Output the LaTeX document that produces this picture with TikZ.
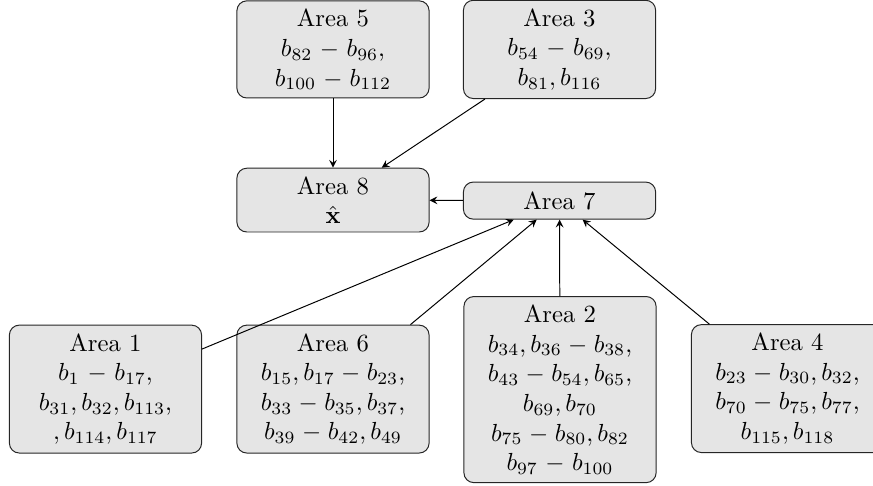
\documentclass[tikz,border=0pt]{standalone}
\usetikzlibrary{arrows}
\begin{document}
\begin{tikzpicture}[
  area/.style={draw=black!85, fill=black!10, rounded corners=4pt, text width=2.5cm, align=center, inner sep=3.333pt},
  conn/.style={-stealth, black}
]
\useasboundingbox (0pt,0pt) rectangle (353.4pt,-196.4pt);
\node[area] (A5) at (134.8pt,-20.0pt) {Area 5\\ $b_{82}-b_{96}$,\\ $b_{100}-b_{112}$};
\node[area] (A3) at (226.5pt,-20.0pt) {Area 3\\ $b_{54}-b_{69}$,\\ $b_{81},b_{116}$};
\node[area] (A8) at (134.8pt,-81.0pt) {Area 8\\ $\hat{\mathbf{x}}$};
\node[area, minimum height=15pt] (A7) at (226.5pt,-81.2pt) {Area 7};
\node[area] (A1) at (42.7pt,-157.5pt) {Area 1\\ $b_1-b_{17}$,\\ $b_{31},b_{32},b_{113}$,\\ $,b_{114},b_{117}$};
\node[area] (A6) at (134.8pt,-157.5pt) {Area 6\\ $b_{15},b_{17}-b_{23}$,\\ $b_{33}-b_{35},b_{37}$,\\ $b_{39}-b_{42},b_{49}$};
\node[area] (A2) at (226.7pt,-157.7pt) {Area 2\\ $b_{34},b_{36}-b_{38}$,\\ $b_{43}-b_{54},b_{65}$,\\ $b_{69},b_{70}$\\ $b_{75}-b_{80},b_{82}$\\ $b_{97}-b_{100}$};
\node[area] (A4) at (318.8pt,-157.3pt) {Area 4\\ $b_{23}-b_{30},b_{32}$,\\ $b_{70}-b_{75},b_{77}$,\\ $b_{115},b_{118}$};
\draw[conn] (A5) -- (A8);
\draw[conn] (A3) -- (A8);
\draw[conn] (A7) -- (A8);
\draw[conn] (A1) -- (A7);
\draw[conn] (A6) -- (A7);
\draw[conn] (A2) -- (A7);
\draw[conn] (A4) -- (A7);
\end{tikzpicture}
\end{document}
